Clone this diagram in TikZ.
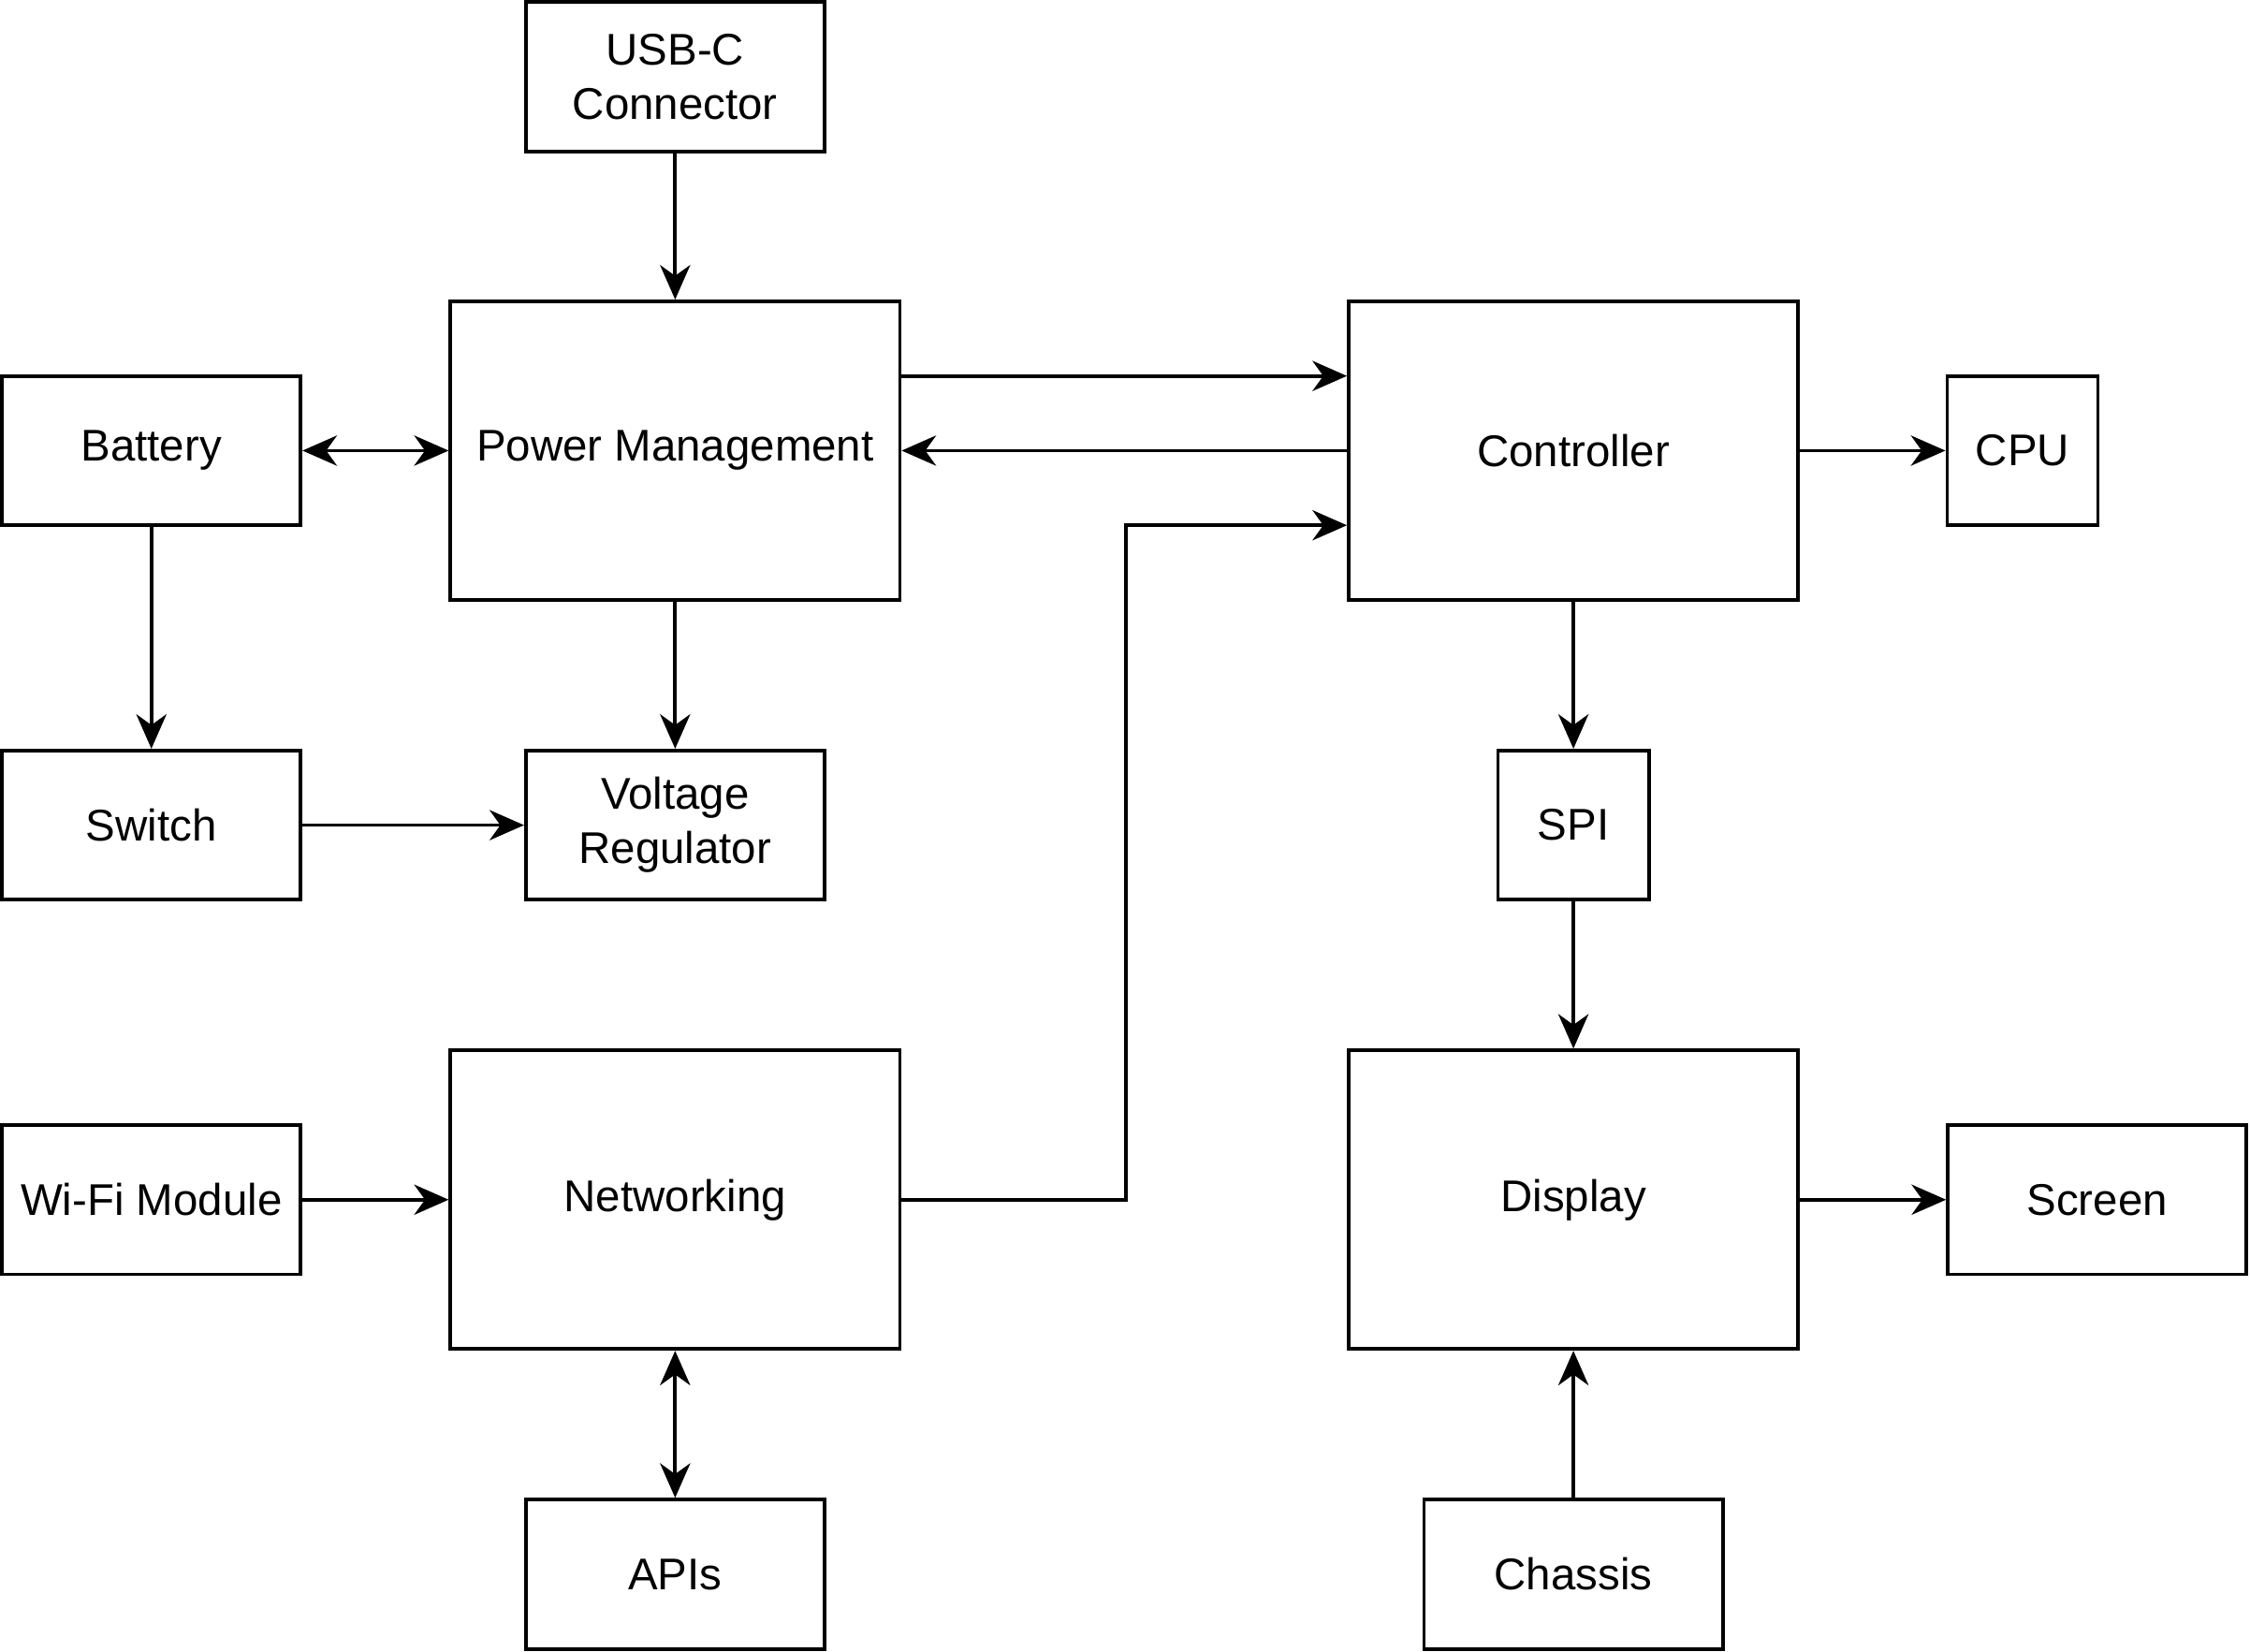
\documentclass[tikz,border=0pt]{standalone}
\usepackage{fontspec}
\setmainfont{Liberation Sans}
\usetikzlibrary{arrows.meta}
\tikzset{
	blk/.style={draw, line width=0.7pt, inner sep=0pt, align=center, font=\fontsize{8.8}{10.8}\selectfont},
	wide/.style={blk, minimum width=2.08cm, minimum height=1.04cm},
	big/.style={blk, minimum width=3.13cm, minimum height=2.08cm},
	sq/.style={blk, minimum width=1.05cm, minimum height=1.04cm},
	tip/.tip={Stealth[length=2.4mm, width=2.1mm, inset=0.75mm]},
	link/.style={line width=0.7pt, -tip},
	twoway/.style={line width=0.7pt, tip-tip}
}
\begin{document}
\begin{tikzpicture}[x=0.01cm, y=-0.01cm]
\useasboundingbox (0,0) rectangle (1568,1150.6);

% power side
\node [wide] (usb) at (470.5,53.5) {USB-C\\Connector};
\node [big] (pm) at (470.5,314) {Power Management};
\node [wide] (bat) at (105.5,314) {Battery};
\node [wide] (sw) at (105.5,575) {Switch};
\node [wide] (vr) at (470.5,575) {Voltage\\Regulator};

% control and display side
\node [big] (ctl) at (1096.5,314) {Controller};
\node [sq] (cpu) at (1409.5,314) {CPU};
\node [sq] (spi) at (1096.5,575) {SPI};
\node [big] (disp) at (1096.5,836) {Display};
\node [wide] (scr) at (1461.5,836) {Screen};
\node [wide] (cha) at (1096.5,1097) {Chassis};

% network side
\node [wide] (wifi) at (105.5,836) {Wi-Fi Module};
\node [big] (net) at (470.5,836) {Networking};
\node [wide] (api) at (470.5,1097) {APIs};

\foreach \a/\b in {usb/pm, bat/sw, pm/vr, sw/vr, ctl/pm, ctl/cpu, ctl/spi, spi/disp, wifi/net, disp/scr, cha/disp}
	\draw [link] (\a) -- (\b);
\draw [twoway] (bat) -- (pm);
\draw [twoway] (net) -- (api);
\draw [link] ([yshift=0.52cm]pm.east) -- ([yshift=0.52cm]ctl.west);
\draw [link] (net.east) -- ++(1.56cm,0) |- ([yshift=-0.52cm]ctl.west);
\end{tikzpicture}
\end{document}
